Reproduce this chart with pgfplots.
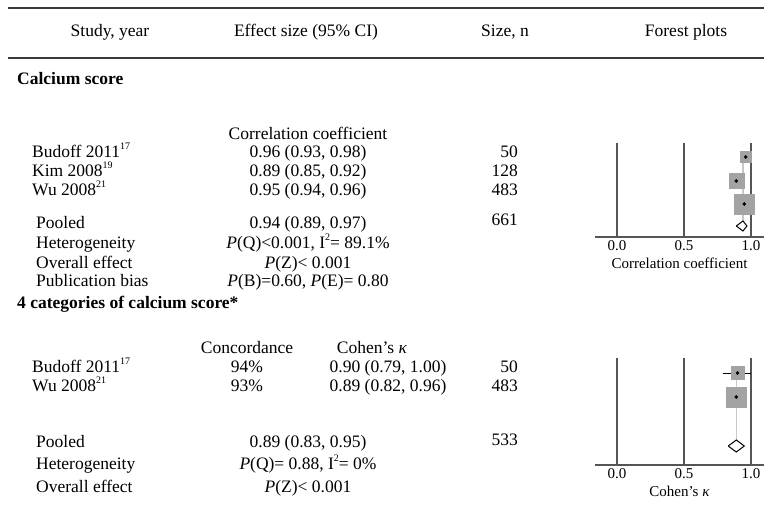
\documentclass[border=0pt]{standalone}
\usepackage{fontspec}
\setmainfont{Liberation Serif}
\usepackage{pgfplots}
\pgfplotsset{compat=1.18}
\newcommand\mf{\fontsize{17.5}{20}\selectfont}
\newcommand\smf{\fontsize{15}{17}\selectfont}
\newcommand\sups[1]{\raisebox{0.42em}{\fontsize{10}{10}\selectfont #1}}
\definecolor{rulec}{HTML}{3A3A3A}
\definecolor{gridc}{HTML}{555555}
\definecolor{boxc}{HTML}{A3A3A3}
\definecolor{refc}{HTML}{C8C8C8}
\begin{document}
\begin{tikzpicture}[x=1pt,y=-1pt]
\path[use as bounding box] (0,0) rectangle (764,504);
\draw[line width=2pt, draw=rulec] (8,8) -- (764,8);
\draw[line width=1.6pt, draw=rulec] (8,58) -- (764,58);
\tikzset{t/.style={font=\mf, inner sep=0pt}}
% header
\node[t, anchor=mid] at (110,34) {Study, year};
\node[t, anchor=mid] at (306,34) {Effect size (95\% CI)};
\node[t, anchor=mid] at (505,34) {Size, n};
\node[t, anchor=mid] at (686,34) {Forest plots};
% section 1
\node[t, anchor=mid west] at (17,82) {\bfseries Calcium score};
\node[t, anchor=mid] at (308,137) {Correlation coefficient};
\node[t, anchor=mid west] at (32,155) {Budoff 2011\sups{17}};
\node[t, anchor=mid] at (308,155) {0.96 (0.93, 0.98)};
\node[t, anchor=mid east] at (518,155) {50};
\node[t, anchor=mid west] at (32,174) {Kim 2008\sups{19}};
\node[t, anchor=mid] at (308,174) {0.89 (0.85, 0.92)};
\node[t, anchor=mid east] at (518,174) {128};
\node[t, anchor=mid west] at (32,193) {Wu 2008\sups{21}};
\node[t, anchor=mid] at (308,193) {0.95 (0.94, 0.96)};
\node[t, anchor=mid east] at (518,193) {483};
\node[t, anchor=mid west] at (36,226) {Pooled};
\node[t, anchor=mid] at (308,226) {0.94 (0.89, 0.97)};
\node[t, anchor=mid east] at (518,223) {661};
\node[t, anchor=mid west] at (36,246) {Heterogeneity};
\node[t, anchor=mid] at (308,246) {\textit{P}(Q)<0.001, I\sups{2}= 89.1\%};
\node[t, anchor=mid west] at (36,266) {Overall effect};
\node[t, anchor=mid] at (308,266) {\textit{P}(Z)< 0.001};
\node[t, anchor=mid west] at (36,284) {Publication bias};
\node[t, anchor=mid] at (308,284) {\textit{P}(B)=0.60, \textit{P}(E)= 0.80};
% section 2
\node[t, anchor=mid west] at (17,306) {\bfseries 4 categories of calcium score*};
\node[t, anchor=mid] at (247,351) {Concordance};
\node[t, anchor=mid] at (372,351) {Cohen’s \textit{κ}};
\node[t, anchor=mid west] at (32,370) {Budoff 2011\sups{17}};
\node[t, anchor=mid] at (247,370) {94\%};
\node[t, anchor=mid] at (388,370) {0.90 (0.79, 1.00)};
\node[t, anchor=mid east] at (518,370) {50};
\node[t, anchor=mid west] at (32,389) {Wu 2008\sups{21}};
\node[t, anchor=mid] at (247,389) {93\%};
\node[t, anchor=mid] at (388,389) {0.89 (0.82, 0.96)};
\node[t, anchor=mid east] at (518,389) {483};
\node[t, anchor=mid west] at (36,445) {Pooled};
\node[t, anchor=mid] at (308,445) {0.89 (0.83, 0.95)};
\node[t, anchor=mid east] at (518,443) {533};
\node[t, anchor=mid west] at (36,467) {Heterogeneity};
\node[t, anchor=mid] at (308,467) {\textit{P}(Q)= 0.88, I\sups{2}= 0\%};
\node[t, anchor=mid west] at (36,490) {Overall effect};
\node[t, anchor=mid] at (308,490) {\textit{P}(Z)< 0.001};

\pgfplotsset{forest/.style={
  scale only axis, width=169pt,
  xmin=-0.1642, xmax=1.097,
  axis x line=bottom, axis y line=none,
  axis line style={-, draw=gridc, line width=1.3pt},
  xtick={0,0.5,1}, xticklabels={0.0,0.5,1.0},
  major tick length=0pt,
  tick label style={font=\smf},
  /pgf/number format/assume math mode=true,
  label style={font=\smf},
  clip=false,
}}
% forest plot 1
\begin{axis}[forest, at={(595pt,-237pt)}, anchor=south west,
  height=97pt, ymin=-237, ymax=-140,
  xlabel={Correlation coefficient}]
\addplot[draw=gridc, line width=1.2pt] coordinates {(0,-143) (0,-237)};
\addplot[draw=gridc, line width=1.2pt] coordinates {(0.5,-143) (0.5,-237)};
\addplot[draw=gridc, line width=1.2pt] coordinates {(1,-143) (1,-237)};
\addplot[draw=refc, line width=1.2pt] coordinates {(0.94,-152) (0.94,-221)};
\addplot[only marks, mark=square*, mark size=5.5pt, mark options={draw=boxc, fill=boxc}] coordinates {(0.96,-157)};
\addplot[only marks, mark=square*, mark size=7.5pt, mark options={draw=boxc, fill=boxc}] coordinates {(0.89,-181)};
\addplot[only marks, mark=square*, mark size=10pt, mark options={draw=boxc, fill=boxc}] coordinates {(0.95,-204)};
\addplot[black, line width=0.9pt] coordinates {(0.93,-157) (0.98,-157)};
\addplot[black, line width=0.9pt] coordinates {(0.85,-181) (0.92,-181)};
\addplot[black, line width=0.9pt] coordinates {(0.94,-204) (0.96,-204)};
\addplot[only marks, mark=*, mark size=1.6pt, black] coordinates {(0.96,-157) (0.89,-181) (0.95,-204)};
\addplot[draw=black, fill=white, line width=1pt, line join=miter] coordinates {(0.89,-226) (0.94,-221) (0.97,-226) (0.94,-231) (0.89,-226)};
\end{axis}
% forest plot 2
\begin{axis}[forest, at={(595pt,-465pt)}, anchor=south west,
  height=109pt, ymin=-465, ymax=-356,
  xlabel={Cohen’s \textit{κ}}]
\addplot[draw=gridc, line width=1.2pt] coordinates {(0,-358) (0,-465)};
\addplot[draw=gridc, line width=1.2pt] coordinates {(0.5,-358) (0.5,-465)};
\addplot[draw=gridc, line width=1.2pt] coordinates {(1,-358) (1,-465)};
\addplot[draw=refc, line width=1.2pt] coordinates {(0.89,-370) (0.89,-440)};
\addplot[only marks, mark=square*, mark size=6.5pt, mark options={draw=boxc, fill=boxc}] coordinates {(0.90,-373)};
\addplot[only marks, mark=square*, mark size=10pt, mark options={draw=boxc, fill=boxc}] coordinates {(0.89,-397)};
\addplot[black, line width=0.9pt] coordinates {(0.79,-373) (1.00,-373)};
\addplot[black, line width=0.9pt] coordinates {(0.82,-397) (0.96,-397)};
\addplot[only marks, mark=*, mark size=1.6pt, black] coordinates {(0.90,-373) (0.89,-397)};
\addplot[draw=black, fill=white, line width=1pt, line join=miter] coordinates {(0.83,-446) (0.89,-440) (0.95,-446) (0.89,-452) (0.83,-446)};
\end{axis}
\end{tikzpicture}
\end{document}
